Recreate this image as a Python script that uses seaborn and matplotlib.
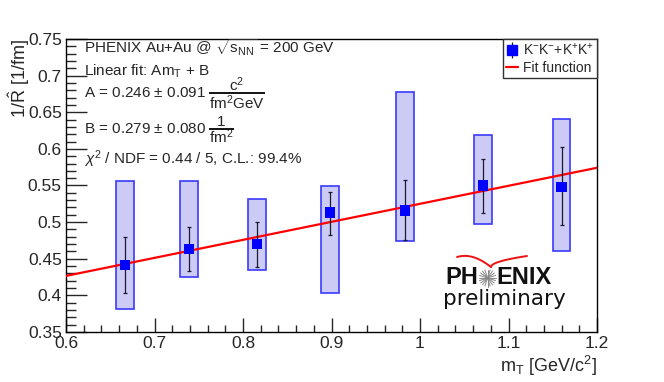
import numpy as np
import pandas as pd
import matplotlib
matplotlib.use("Agg")
import matplotlib.pyplot as plt
import seaborn as sns
from matplotlib.lines import Line2D
from matplotlib.ticker import MultipleLocator

# -------------------- DATA --------------------
m_t = [0.667, 0.739, 0.816, 0.898, 0.983, 1.071, 1.160]
inv_r = [0.441, 0.463, 0.470, 0.513, 0.516, 0.550, 0.548]
stat_lo = [0.403, 0.433, 0.439, 0.482, 0.475, 0.513, 0.496]
stat_hi = [0.480, 0.493, 0.500, 0.541, 0.557, 0.586, 0.602]
sys_lo = [0.381, 0.425, 0.435, 0.403, 0.474, 0.498, 0.461]
sys_hi = [0.556, 0.556, 0.531, 0.549, 0.678, 0.619, 0.641]

fit_a = 0.246
fit_b = 0.279
fit_range = [0.6, 1.2]

df = pd.DataFrame({"mt": m_t, "r": inv_r, "slo": stat_lo, "shi": stat_hi,
                   "ylo": sys_lo, "yhi": sys_hi})
fit_x = np.linspace(fit_range[0], fit_range[1], 50)
fit_df = pd.DataFrame({"mt": fit_x, "r": fit_a * fit_x + fit_b})

# -------------------- STYLE --------------------
sns.set_style("ticks")
plt.rcParams["font.family"] = ["Liberation Sans", "DejaVu Sans"]
plt.rcParams["mathtext.fontset"] = "custom"
plt.rcParams["mathtext.rm"] = "Liberation Sans"
plt.rcParams["mathtext.it"] = "Liberation Sans:italic"
plt.rcParams["mathtext.sf"] = "Liberation Sans"

FS = 11
W, H = 664, 382

fig = plt.figure(figsize=(6.64, 3.82), dpi=100)
ax = fig.add_axes([66 / W, 1 - 332 / H, 531 / W, 293 / H])

# systematic boxes
ax.bar(df["mt"], df["yhi"] - df["ylo"], bottom=df["ylo"], width=0.02,
       color="#cbcbf6", edgecolor="#3a3aff", linewidth=1.2, zorder=1)

# fit line
sns.lineplot(data=fit_df, x="mt", y="r", color="#ff0000", linewidth=1.6,
             ax=ax, zorder=3, legend=False)

# statistical errors
ax.errorbar(df["mt"], df["r"],
            yerr=[df["r"] - df["slo"], df["shi"] - df["r"]],
            fmt="none", ecolor="#1a1a2e", elinewidth=0.9, capsize=1.5,
            capthick=0.9, zorder=4)

# points
sns.scatterplot(data=df, x="mt", y="r", marker="s", s=55, color="#0000ff",
                edgecolor="none", ax=ax, zorder=5, legend=False)

# -------------------- AXES --------------------
ax.set_xlim(0.6, 1.2)
ax.set_ylim(0.35, 0.75)
ax.xaxis.set_major_locator(MultipleLocator(0.1))
ax.xaxis.set_minor_locator(MultipleLocator(0.02))
ax.yaxis.set_major_locator(MultipleLocator(0.05))
ax.yaxis.set_minor_locator(MultipleLocator(0.01))
ax.xaxis.set_major_formatter(plt.FuncFormatter(lambda v, p: f"{v:g}"))
ax.yaxis.set_major_formatter(plt.FuncFormatter(lambda v, p: f"{v:g}"))
ax.tick_params(axis="both", which="both", direction="in", labelsize=12.5,
               top=False, right=False, width=1)
ax.tick_params(axis="y", which="major", length=15, pad=3)
ax.tick_params(axis="y", which="minor", length=7.5)
ax.tick_params(axis="x", which="major", length=10, pad=3)
ax.tick_params(axis="x", which="minor", length=5)
for sp in ax.spines.values():
    sp.set_visible(True)
    sp.set_linewidth(1)
    sp.set_color("black")

ax.set_xlabel(r"m$_\mathrm{T}$ [GeV/c$^\mathrm{2}$]", fontsize=13,
              loc="right")
ax.xaxis.set_label_coords(1.0, -0.075)
ax.set_ylabel(r"1/$\hat{\mathrm{R}}$ [1/fm]", fontsize=13, loc="top")
ax.yaxis.set_label_coords(-0.064, 1.0)

# -------------------- TEXT --------------------
# positions in picture pixels (from top-left), converted to axes fraction
def ax_pt(px, py):
    return ((px - 66) / 531, (332 - py) / 293)

def put(px, py, s, **kw):
    x, y = ax_pt(px, py)
    return ax.text(x, y, s, transform=ax.transAxes, fontsize=FS,
                   va="baseline", **kw)

put(84, 53.5, r"PHENIX Au+Au @ $\sqrt{\mathrm{s_{NN}}}$ = 200 GeV")
put(84, 76, r"Linear fit: Am$_\mathrm{T}$ + B")
t_a = put(84, 97, r"A = 0.246 $\pm$ 0.091")
t_b = put(84, 133, r"B = 0.279 $\pm$ 0.080")
put(84, 163.5, r"$\chi^\mathrm{2}$ / NDF = 0.44 / 5, C.L.: 99.4%")

fig.canvas.draw()
renderer = fig.canvas.get_renderer()

def fraction(after, num, den, y_num, y_bar, y_den):
    # place a stacked fraction right after a text, ROOT style
    bb = after.get_window_extent(renderer)
    x0 = bb.x1 + 3
    d = put(x0, y_den, den, ha="left")
    dbb = d.get_window_extent(renderer)
    w = dbb.width
    put(x0 + w / 2, y_num, num, ha="center")
    p0 = ax_pt(x0, y_bar)
    p1 = ax_pt(x0 + w, y_bar)
    ax.plot([p0[0], p1[0]], [p0[1], p1[1]], transform=ax.transAxes,
            color="black", linewidth=1.3, solid_capstyle="butt")

fraction(t_a, r"c$^\mathrm{2}$", r"fm$^\mathrm{2}$GeV", 91, 93, 108.5)
fraction(t_b, "1", r"fm$^\mathrm{2}$", 126, 129, 143.5)

# -------------------- LEGEND --------------------
h_pt = (Line2D([], [], color="#1a1a2e", marker="|", markersize=11,
               linestyle="none", markeredgewidth=0.9),
        Line2D([], [], color="#0000ff", marker="s", markersize=6.5,
               linestyle="none"))
h_fit = Line2D([], [], color="#ff0000", linewidth=1.6)
leg = ax.legend([h_pt, h_fit],
                [r"$\mathrm{K^{-}K^{-}{+}K^{+}K^{+}}$", "Fit function"],
                loc="upper right", borderaxespad=0, fancybox=False,
                framealpha=1, edgecolor="#333333", fontsize=10,
                handlelength=0.9, handletextpad=0.35, borderpad=0.2,
                labelspacing=0.25)
leg.get_frame().set_linewidth(1)

# -------------------- PHENIX LOGO --------------------
lx, ly = ax_pt(445, 278)
ax.text(lx, ly, "PH", transform=ax.transAxes, fontsize=17,
        fontweight="bold", va="center", ha="left", color="#111111")
ex, ey = ax_pt(496, 278)
ax.text(ex, ey, "ENIX", transform=ax.transAxes, fontsize=17,
        fontweight="bold", va="center", ha="left", color="#111111")
px_, py_ = ax_pt(443, 299)
ax.text(px_, py_, "preliminary", transform=ax.transAxes, fontsize=15.5,
        family="DejaVu Sans", va="center", ha="left", color="#111111")

# star burst
cx, cy = 487.5, 278
for ang in np.linspace(0, np.pi, 10, endpoint=False):
    dx, dy = 8.5 * np.cos(ang), 8.5 * np.sin(ang)
    p0 = ax_pt(cx - dx, cy - dy)
    p1 = ax_pt(cx + dx, cy + dy)
    ax.plot([p0[0], p1[0]], [p0[1], p1[1]], transform=ax.transAxes,
            color="#888888", linewidth=0.7)

# red swoosh
t = np.linspace(0, 1, 40)
left_x = 457 + 34 * t
left_y = 257 - 3 * np.sin(np.pi * t * 0.5) * (1 - t) * 2 + 10 * t ** 2
right_x = 491 + 36 * t
right_y = 267 - 11 * np.sqrt(t)
for xs_px, ys_px in ((left_x, left_y), (right_x, right_y)):
    pts = [ax_pt(a, b) for a, b in zip(xs_px, ys_px)]
    xs, ys = zip(*pts)
    ax.plot(xs, ys, transform=ax.transAxes, color="#ee1111", linewidth=1.4)

fig.savefig("out.png", dpi=100)
